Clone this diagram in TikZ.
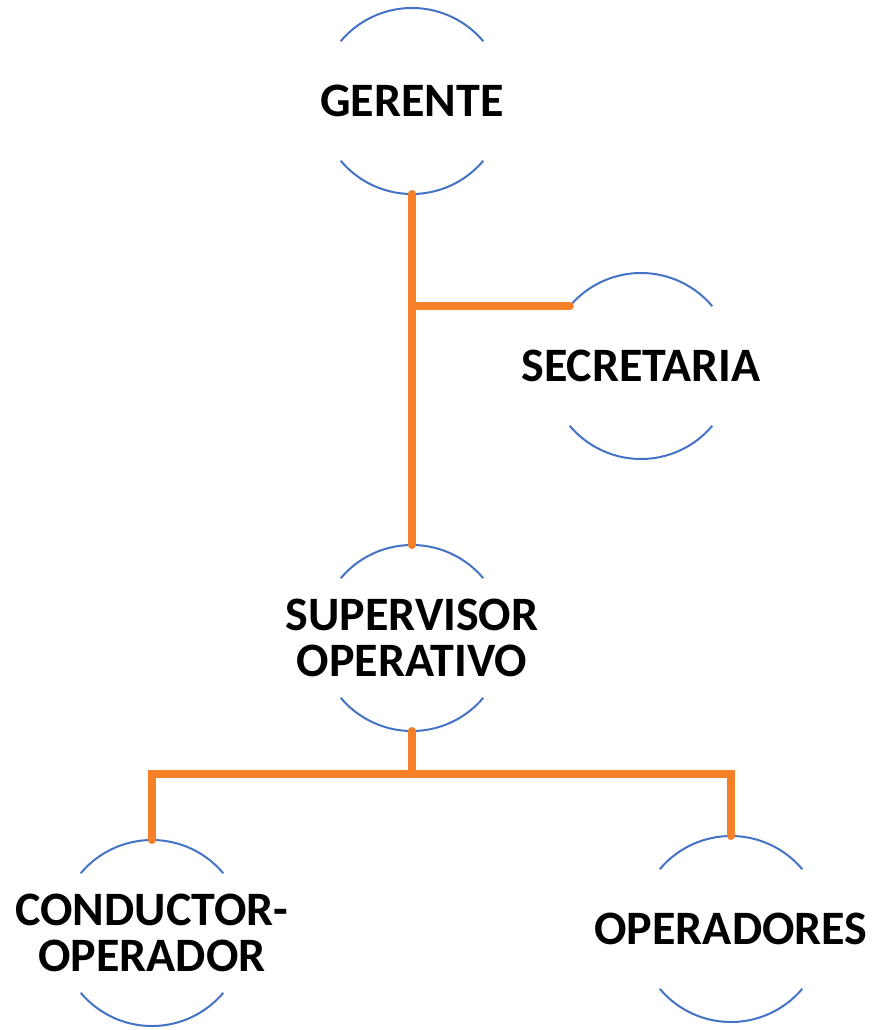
\documentclass[tikz,border=0pt]{standalone}
\usepackage{fontspec}
\setmainfont{Carlito}
\usepackage{tikz}
\usetikzlibrary{positioning}

\definecolor{rimblue}{RGB}{68,114,196}
\definecolor{linkorange}{RGB}{245,128,40}

\begin{document}
\begin{tikzpicture}[
  on grid,
  rolecircle/.style={circle, minimum size=186pt, inner sep=0pt, outer sep=0pt},
  rolelabel/.style={font=\fontsize{48}{46}\selectfont\bfseries, align=center, inner sep=0pt},
  rim/.style={rimblue, line width=2pt},
  link/.style={linkorange, line width=8pt, line cap=round}
]
\useasboundingbox (-412pt,101pt) rectangle (466pt,-929pt);

\node[rolecircle, label={[rolelabel]center:GERENTE}] (ger) at (0,0) {};
\node[rolecircle, label={[rolelabel]center:SECRETARIA}, below right=265pt and 229pt of ger] (sec) {};
\node[rolecircle, label={[rolelabel]center:{SUPERVISOR\\OPERATIVO}}, below=537pt of ger] (sup) {};
\node[rolecircle, label={[rolelabel]center:{CONDUCTOR-\\OPERADOR}}, below left=295pt and 260pt of sup] (con) {};
\node[rolecircle, label={[rolelabel]center:OPERADORES}, below right=291pt and 319pt of sup] (ope) {};

% open circles: only top and bottom arcs
\foreach \n in {ger,sec,sup,con,ope} {
  \draw[rim] (\n.40) arc[start angle=40, end angle=140, radius=93pt];
  \draw[rim] (\n.220) arc[start angle=220, end angle=320, radius=93pt];
}

\draw[link] (ger.south) -- (sup.north);
\draw[link] (ger.south |- sec.140) -- (sec.140);
\draw[link] (sup.south) -- ++(0,-43pt) coordinate (fork);
\draw[link] (con.north) |- (fork) -| (ope.north);
\end{tikzpicture}
\end{document}
